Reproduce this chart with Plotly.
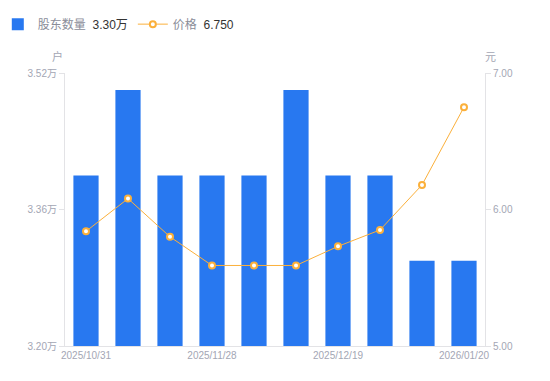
import plotly.graph_objects as go

dates = ["2025/10/31", "2025/11/10", "2025/11/20", "2025/11/28", "2025/12/05",
         "2025/12/10", "2025/12/19", "2025/12/31", "2026/01/09", "2026/01/20"]
holders = [3.40, 3.50, 3.40, 3.40, 3.40, 3.50, 3.40, 3.40, 3.30, 3.30]  # 万户
price = [5.84, 6.08, 5.80, 5.59, 5.59, 5.59, 5.73, 5.85, 6.18, 6.75]
x_ticks = ["2025/10/31", "2025/11/28", "2025/12/19", "2026/01/20"]
left_ticks = [3.20, 3.36, 3.52]
right_ticks = [5.00, 6.00, 7.00]

FONT = "Liberation Sans, Arial, Noto Sans CJK SC, sans-serif"
GRAY = "#a3a6b4"
AXIS = "#e3e3e6"
BLUE = "#2878f0"
ORANGE = "#fbb03b"

fig = go.Figure()
fig.add_trace(go.Bar(
    x=dates, y=holders, name="股东数量  <span style='color:#333'>%.2f万</span>" % holders[-1],
    marker=dict(color=BLUE, line=dict(width=0)), width=0.6, yaxis="y",
))
fig.add_trace(go.Scatter(
    x=dates, y=price, yaxis="y2", mode="lines+markers",
    name="价格  <span style='color:#333'>%.3f</span>" % price[-1],
    line=dict(color=ORANGE, width=1),
    marker=dict(symbol="circle", size=6, color="white", line=dict(color=ORANGE, width=2)),
))

fig.update_layout(
    width=542, height=373,
    margin=dict(l=57, r=65, t=65, b=35, autoexpand=False),
    paper_bgcolor="white", plot_bgcolor="white",
    font=dict(family=FONT, color=GRAY, size=10),
    showlegend=True,
    legend=dict(orientation="h", x=-0.16, y=1.179, xanchor="left", yanchor="middle",
                font=dict(size=12, color="#8a8d99", family=FONT), itemwidth=30,
                bgcolor="rgba(0,0,0,0)"),
    xaxis=dict(
        type="category", categoryorder="array", categoryarray=dates,
        tickvals=x_ticks, ticktext=x_ticks, showgrid=False,
        showline=True, linecolor=AXIS, linewidth=1, ticks="",
        tickfont=dict(size=10, color=GRAY),
        range=[-0.5, 9.5],
    ),
    yaxis=dict(
        range=[3.20, 3.52], tickvals=left_ticks,
        ticktext=["%.2f万" % v for v in left_ticks],
        showgrid=False, zeroline=False, showline=True, linecolor=AXIS, linewidth=1,
        ticks="outside", ticklen=5, tickcolor=AXIS, tickfont=dict(size=10, color=GRAY),
    ),
    yaxis2=dict(
        range=[5.0, 7.0], tickvals=right_ticks,
        ticktext=["%.2f" % v for v in right_ticks],
        overlaying="y", side="right", showgrid=False, zeroline=False,
        showline=True, linecolor=AXIS, linewidth=1,
        ticks="outside", ticklen=5, tickcolor=AXIS, tickfont=dict(size=10, color=GRAY),
    ),
    bargap=0.4,
)

fig.add_annotation(text="户", xref="paper", yref="paper", x=-0.017, y=1.059,
                   xanchor="center", yanchor="middle", showarrow=False,
                   font=dict(size=11, color=GRAY))
fig.add_annotation(text="元", xref="paper", yref="paper", x=1.012, y=1.059,
                   xanchor="center", yanchor="middle", showarrow=False,
                   font=dict(size=11, color=GRAY))

fig.write_html("out.html")
